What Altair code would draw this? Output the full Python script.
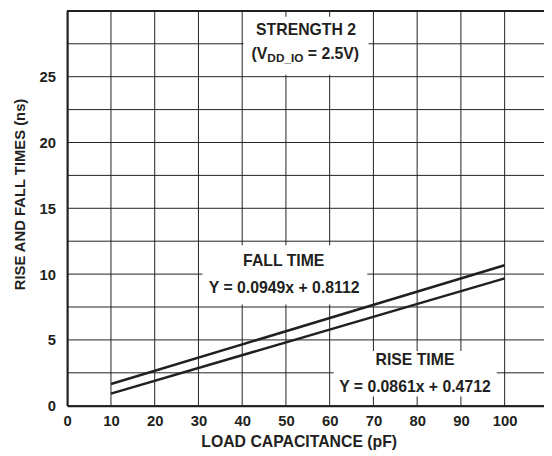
import altair as alt
import pandas as pd

# ---- data ----
cap_pf = [10, 100]
fall_ns = [1.65, 10.67]
rise_ns = [0.92, 9.68]

x_ticks = [0, 10, 20, 30, 40, 50, 60, 70, 80, 90, 100]
y_ticks = [0, 2.5, 5, 7.5, 10, 12.5, 15, 17.5, 20, 22.5, 25, 27.5]
x_max, y_max = 109, 30

box_x = [40.3, 30.9, 60.9]
box_x2 = [68.9, 68.6, 98.2]
box_y = [29.55, 12.2, 4.16]
box_y2 = [25.15, 7.7, 0.7]

label_text = ["STRENGTH 2", "FALL TIME", "Y = 0.0949x + 0.8112", "RISE TIME", "Y = 0.0861x + 0.4712"]
label_x = [54.6, 49.5, 49.6, 79.5, 79.5]
label_y = [28.52, 11.0, 8.92, 3.49, 1.39]

vdd_pre, vdd_sub, vdd_post = "(V", "DD_IO", " = 2.5V)"
vdd_x_a, vdd_x_b, vdd_y = 45.75, 55.0, 26.72

# ---- tables ----
lines_df = pd.DataFrame({
    "cap": cap_pf * 2,
    "time": fall_ns + rise_ns,
    "series": ["FALL"] * len(cap_pf) + ["RISE"] * len(cap_pf),
})
box_df = pd.DataFrame({"cap": box_x, "cap2": box_x2, "time": box_y, "time2": box_y2})
lab_df = pd.DataFrame({"cap": label_x, "time": label_y, "txt": label_text})
pre_df = pd.DataFrame({"cap": [vdd_x_a], "time": [vdd_y], "txt": [vdd_pre]})
sub_df = pd.DataFrame({"cap": [vdd_x_a], "time": [vdd_y], "txt": [vdd_sub]})
post_df = pd.DataFrame({"cap": [vdd_x_b], "time": [vdd_y], "txt": [vdd_post]})
vgrid_df = pd.DataFrame({"cap": x_ticks})
hgrid_df = pd.DataFrame({"time": y_ticks + [y_max]})

INK = "#231f20"
FONT = "Liberation Sans"

x_scale = alt.Scale(domain=[0, x_max], nice=False, zero=False)
y_scale = alt.Scale(domain=[0, y_max], nice=False, zero=False)

x_axis = alt.Axis(
    values=x_ticks, title="LOAD CAPACITANCE (pF)", grid=False, ticks=False, zindex=1,
    labelPadding=8, labelFont=FONT, labelFontWeight="bold", labelFontSize=15,
    labelColor=INK, labelFlush=False, labelOverlap=False, labelAngle=0,
    titleFont=FONT, titleFontWeight="bold", titleFontSize=16, titleColor=INK,
    titleX=234.5, titleY=41, titleBaseline="alphabetic", titleAlign="center",
    domainColor=INK, domainWidth=2,
)
y_axis = alt.Axis(
    values=y_ticks, title="RISE AND FALL TIMES (ns)", grid=False, ticks=False, zindex=1,
    labelExpr="datum.value % 5 == 0 ? datum.label : ''",
    labelPadding=12, labelFont=FONT, labelFontWeight="bold", labelFontSize=15,
    labelColor=INK, labelFlush=False, labelOverlap=False,
    titleFont=FONT, titleFontWeight="bold", titleFontSize=15, titleColor=INK,
    titleX=-43, titleY=185.5, titleBaseline="alphabetic", titleAlign="center", titleAngle=270,
    domainColor=INK, domainWidth=2,
)

X = alt.X("cap:Q", scale=x_scale, axis=x_axis)
Y = alt.Y("time:Q", scale=y_scale, axis=y_axis)

vgrid = alt.Chart(vgrid_df).mark_rule(color=INK, strokeWidth=1).encode(
    x=X, y=alt.datum(0), y2=alt.datum(y_max)
)
hgrid = alt.Chart(hgrid_df).mark_rule(color=INK, strokeWidth=1).encode(
    y=Y, x=alt.datum(0), x2=alt.datum(x_max)
)

boxes = alt.Chart(box_df).mark_rect(fill="white", stroke=None, opacity=1).encode(
    x=X, x2="cap2:Q", y=Y, y2="time2:Q"
)

top_border = alt.Chart(hgrid_df).mark_rule(color=INK, strokeWidth=2).encode(
    x=alt.datum(0), x2=alt.datum(x_max), y=alt.datum(y_max)
)

lines = alt.Chart(lines_df).mark_line(color=INK, strokeWidth=2.5).encode(
    x=X, y=Y, detail="series:N"
)

txt_style = dict(font=FONT, fontWeight="bold", fontSize=16, color=INK, baseline="middle")

labels = alt.Chart(lab_df).mark_text(align="center", **txt_style).encode(x=X, y=Y, text="txt:N")
pre = alt.Chart(pre_df).mark_text(align="right", **txt_style).encode(x=X, y=Y, text="txt:N")
sub = alt.Chart(sub_df).mark_text(
    align="left", font=FONT, fontWeight="bold", fontSize=12, color=INK, baseline="middle", dy=4.5
).encode(x=X, y=Y, text="txt:N")
post = alt.Chart(post_df).mark_text(align="left", **txt_style).encode(x=X, y=Y, text="txt:N")

chart = alt.layer(vgrid, hgrid, boxes, top_border, lines, labels, pre, sub, post).properties(
    width=483, height=400,
    autosize=alt.AutoSizeParams(type="none"),
    padding={"left": 60, "top": 0, "right": 0, "bottom": 46},
    background="white",
).configure_view(stroke=None)

chart.save("out.html", embed_options={"renderer": "svg", "actions": False})
